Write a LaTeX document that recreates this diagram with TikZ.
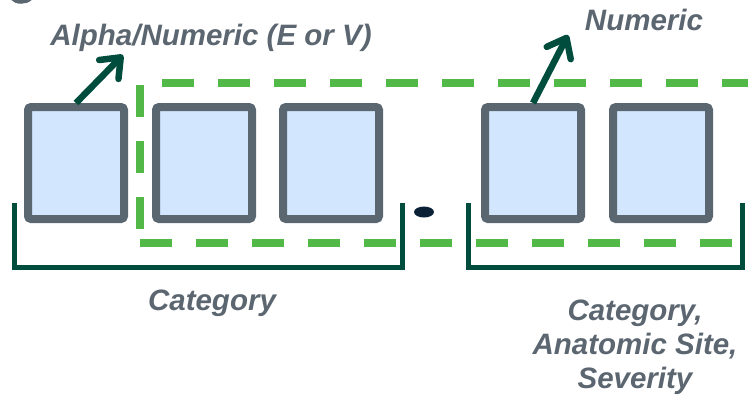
\documentclass[tikz,border=0pt]{standalone}
\usepackage{fontspec}
\setmainfont{Liberation Sans}
\usetikzlibrary{arrows.meta,shapes.geometric}

\definecolor{labelgray}{HTML}{5B6670}
\definecolor{boxedge}{HTML}{5A6670}
\definecolor{boxfill}{HTML}{D2E7FD}
\definecolor{dashgreen}{HTML}{52B848}
\definecolor{darkgreen}{HTML}{004D3D}
\definecolor{dotnavy}{HTML}{0B2236}

\tikzset{
  charbox/.style={draw=boxedge, fill=boxfill, line width=8pt, rounded corners=3pt,
    minimum width=96pt, minimum height=112pt, inner sep=0pt, shape=rectangle},
  caption/.style={text=labelgray, font=\fontsize{29.5}{34}\selectfont\bfseries\itshape,
    inner sep=0pt, anchor=base},
  groupline/.style={draw=dashgreen, line width=8pt, dash pattern=on 32pt off 24pt},
  bracketline/.style={draw=darkgreen, line width=5pt},
  pointer/.style={draw=darkgreen, line width=6.5pt,
    -{Straight Barb[length=17pt, width=27pt, round]}},
}

\begin{document}
\begin{tikzpicture}[x=1pt, y=-1pt]
  \useasboundingbox (0,0) rectangle (748,399);
  \clip (0,0) rectangle (748,399);

  % clipped glyph at the upper left corner
  \draw[labelgray, line width=4pt] (12,-2) .. controls (16,3) and (26,3) .. (31,-2);

  % green dashed grouping outline
  \draw[groupline] (162,83) -- (760,83);
  \draw[groupline] (140,85) -- (140,232);
  \draw[groupline] (140,243) -- (733,243);

  % character boxes
  \node[charbox] (c1) at (76,163) {};
  \node[charbox] (c2) at (204,163) {};
  \node[charbox] (c3) at (331,163) {};
  \node[charbox] (c4) at (533,163) {};
  \node[charbox] (c5) at (661,163) {};

  % decimal point
  \node[ellipse, fill=dotnavy, minimum width=20pt, minimum height=11pt, inner sep=0pt] (pt) at (424,212) {};

  % brackets under the groups
  \draw[bracketline] (14,203) -- (14,267) -- (402,267) -- (402,203);
  \draw[bracketline] (468,203) -- (468,267) -- (742,267) -- (742,203);

  % labels
  \node[caption] (lalpha) at (211,45) {Alpha/Numeric (E or V)};
  \node[caption] (lnum) at (644,30) {Numeric};
  \node[caption] (lcat) at (212,310) {Category};
  \node[caption, align=center] (lext) at (635,388) {Category,\\Anatomic Site,\\Severity};

  % pointers from boxes to their labels
  \coordinate (tipa) at (123,55);
  \coordinate (tipn) at (568,35);
  \draw[pointer] (c1.north) -- (tipa);
  \draw[pointer] (c4.north) -- (tipn);
\end{tikzpicture}
\end{document}
